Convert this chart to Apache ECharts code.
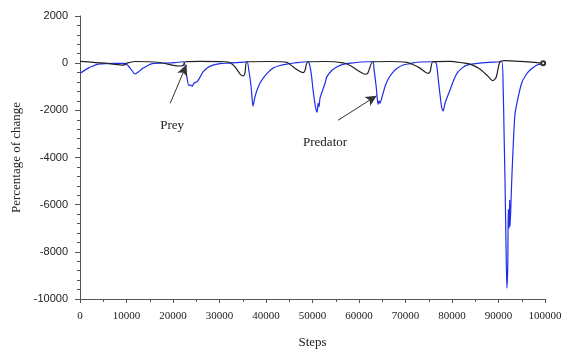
<!DOCTYPE html>
<html>
<head>
<meta charset="utf-8">
<script src="https://cdn.jsdelivr.net/npm/echarts@6/dist/echarts.min.js"></script>
<style>html,body{margin:0;padding:0;background:#fff}#c{width:578px;height:354px}</style>
</head>
<body>
<div id="c"></div>
<script>
// Steps (x) and percentage of change (y)
const preySteps = [0,5400,9000,9700,10100,11800,16800,19800,21500,22200,22600,25800,31200,32300,33300,34400,35100,35500,35900,40900,44500,45800,46900,48000,48400,49000,52700,56600,58100,59600,60700,61300,61900,63000,66700,70300,71800,73100,74200,74800,75300,75900,79600,82400,83900,86000,87700,88800,89500,90300,91400,94600,97800,99600];
const preyValues = [80,0,-80,-60,0,70,40,-80,-120,-100,60,80,60,20,-150,-450,-540,-400,60,70,30,-150,-300,-400,-300,60,70,10,-100,-290,-420,-470,-420,60,70,30,-80,-210,-370,-430,-350,60,80,10,-40,-250,-550,-740,-600,60,110,80,30,0];

const predSteps = [0,1700,2800,3900,7500,9700,10300,11200,11800,12500,13500,14600,15500,20400,22200,22600,23000,23400,23700,24100,24500,25200,25800,26500,27500,28600,30100,31600,34400,35900,36300,36800,37200,37600,38100,38700,39400,40400,41500,43000,44500,46600,48800,49200,49700,50100,50500,50800,51000,51200,51400,51600,52000,52700,53100,54200,55300,56600,58100,61700,63000,63200,63700,64100,64300,64500,65000,65600,66200,67100,68200,69500,71000,72500,75900,76600,77000,77400,77800,78100,78500,79600,80400,81100,82200,83200,86000,89700,90700,91000,91200,91400,91600,91800,92000,92100,92300,92400,92500,92700,92900,93500,94000,95000,95900,96800,98300,99600];
const predValues = [-430,-220,-120,-40,-10,-10,-100,-320,-460,-380,-220,-100,-20,20,60,-100,-600,-950,-920,-980,-850,-780,-600,-360,-180,-80,-20,0,30,60,-300,-1000,-1820,-1450,-1125,-850,-630,-400,-210,-100,-40,20,60,40,-400,-1100,-1700,-2000,-2080,-1700,-1850,-1500,-1250,-850,-570,-300,-150,-50,0,60,60,-200,-1000,-1750,-1600,-1700,-1400,-990,-700,-430,-220,-80,-20,40,60,0,-600,-1300,-1900,-2030,-1700,-1125,-700,-420,-200,-80,0,50,60,-1000,-3000,-5000,-7500,-9540,-8500,-6200,-7000,-5800,-6900,-5800,-4700,-2240,-1650,-830,-500,-290,-80,-20];

const xTicks = [0,100000,10000];
const yTicks = [-10000,2000,2000];

// annotations: [label, textPos, arrowTail, arrowTip]
const annPrey = ['Prey',[19800,-2630],[19400,-1700],[22900,-70]];
const annPred = ['Predator',[52700,-3380],[55500,-2420],[63800,-1380]];

const pair = (xs, ys) => xs.map((x, i) => [x, ys[i]]);
const preyData = pair(preySteps, preyValues).map((p, i, a) =>
  i === a.length - 1 ? {value: p, symbol: 'emptyCircle', symbolSize: 4, itemStyle:{color:'#333', borderColor:'#333', borderWidth: 1}} : p);

const serif = '"Liberation Serif", "Times New Roman", serif';
const sans = '"Liberation Sans", Arial, sans-serif';

const chart = echarts.init(document.getElementById('c'), null, {renderer: 'canvas'});
const ann = a => ({
  arrow: [{coord: a[2], symbol: 'none'}, {coord: a[3], symbol: 'arrow'}],
  text: {coord: a[1], value: a[0], symbol: 'rect', symbolSize: 0,
    label: {show: true, formatter: a[0], position: 'inside', color: '#222', fontFamily: serif, fontSize: 13}}
});
const a1 = ann(annPrey), a2 = ann(annPred);

chart.setOption({
  animation: false,
  backgroundColor: '#fff',
  grid: {left: 80, right: 33, top: 16, bottom: 51, containLabel: false},
  xAxis: {
    type: 'value', min: xTicks[0], max: xTicks[1], interval: xTicks[2],
    name: 'Steps', nameLocation: 'middle', nameGap: 37,
    nameTextStyle: {fontFamily: serif, fontSize: 13, color: '#222'},
    axisLine: {show: true, onZero: false, lineStyle: {color: '#555', width: 1}},
    axisTick: {show: true, length: 4, lineStyle: {color: '#555'}},
    minorTick: {show: true, splitNumber: 2, length: 3, lineStyle: {color: '#555'}},
    splitLine: {show: false},
    axisLabel: {fontFamily: serif, fontSize: 11, color: '#222', margin: 12, formatter: v => String(v)}
  },
  yAxis: {
    type: 'value', min: yTicks[0], max: yTicks[1], interval: yTicks[2],
    name: 'Percentage of change', nameLocation: 'middle', nameGap: 56,
    nameTextStyle: {fontFamily: serif, fontSize: 13, color: '#222'},
    axisLine: {show: true, lineStyle: {color: '#555', width: 1}},
    axisTick: {show: true, length: 5, lineStyle: {color: '#555'}},
    minorTick: {show: true, splitNumber: 5, length: 3, lineStyle: {color: '#555'}},
    splitLine: {show: false},
    axisLabel: {fontFamily: sans, fontSize: 11, color: '#222', margin: 12, formatter: v => String(v)}
  },
  series: [
    {
      name: 'Predator', type: 'line', data: pair(predSteps, predValues),
      showSymbol: false, symbol: 'none', smooth: 0.25,
      lineStyle: {color: '#1f2de8', width: 1.2}, z: 2,
      markLine: {
        silent: true, symbolSize: [8, 11], animation: false,
        lineStyle: {color: '#333', width: 1, type: 'solid'}, label: {show: false},
        data: [a1.arrow, a2.arrow]
      },
      markPoint: {silent: true, data: [a1.text, a2.text]}
    },
    {
      name: 'Prey', type: 'line', data: preyData,
      showSymbol: true, symbol: 'none', smooth: 0.25,
      lineStyle: {color: '#222', width: 1.2}, z: 3
    }
  ]
});
</script>
</body>
</html>
